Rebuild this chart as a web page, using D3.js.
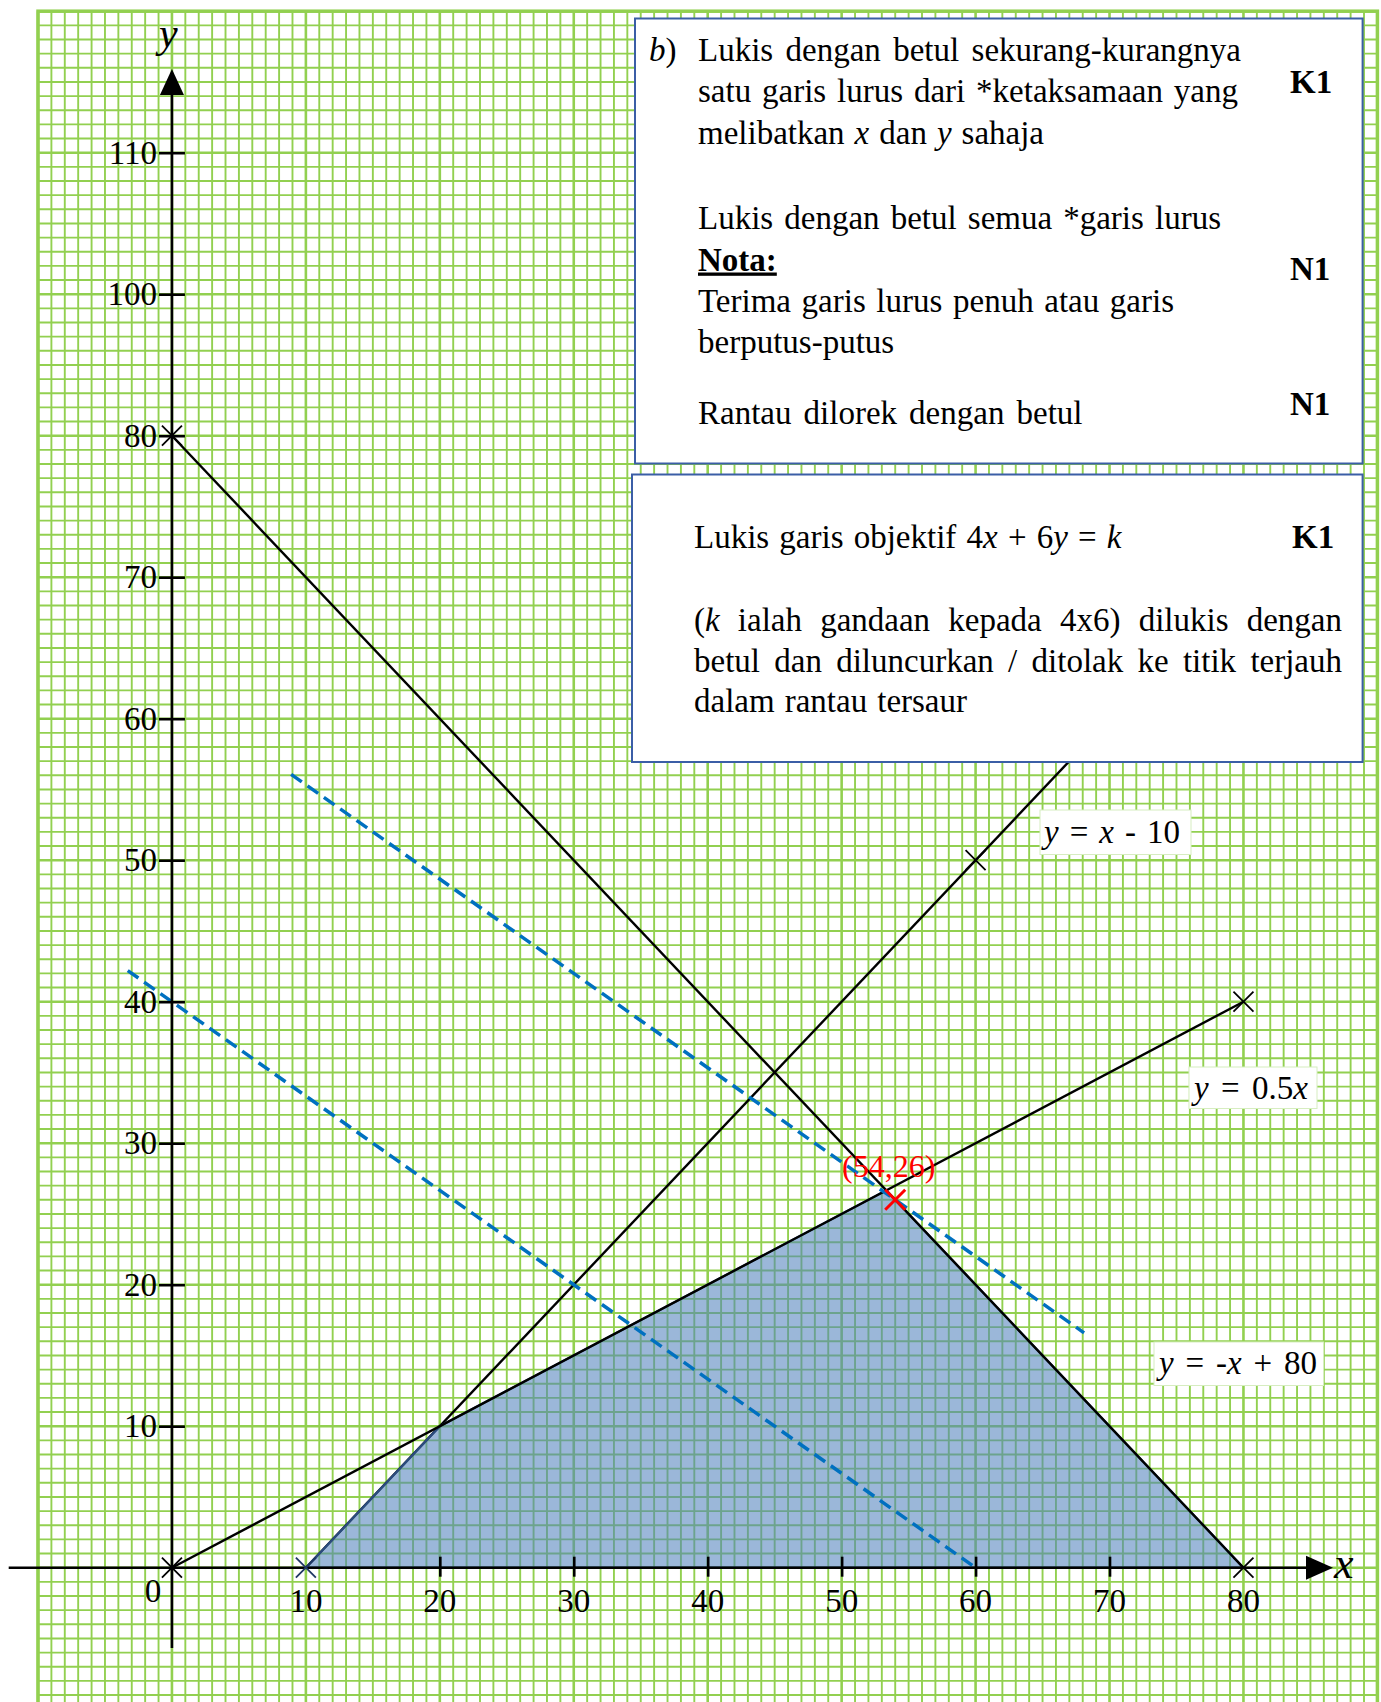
<!DOCTYPE html>
<html><head><meta charset="utf-8">
<script src="https://cdn.jsdelivr.net/npm/d3@7"></script>
<style>
html,body{margin:0;padding:0;background:#fff;}
svg{display:block;}
text{font-family:"Liberation Serif","Times New Roman",serif;}
</style></head>
<body>
<svg id="chart" width="1381" height="1702"></svg>
<script>
// ---------- data ----------
const xTickValues = [20, 30, 40, 50, 60, 70];
const xTickLabelValues = [10, 20, 30, 40, 50, 60, 70, 80];
const xTickLabels = ["10", "20", "30", "40", "50", "60", "70", "80"];
const yTickValues = [10, 20, 30, 40, 50, 60, 70, 80, 90, 100];
const yTickLabels = ["10", "20", "30", "40", "50", "60", "70", "80", "100", "110"];

// constraint lines (endpoints in data units)
const lineXminus10 = [[10, 0], [70, 60]];      // y = x - 10
const lineHalfX = [[0, 0], [80, 40]];          // y = 0.5x
const lineMinusXplus80 = [[0, 80], [80, 0]];   // y = -x + 80

// objective lines 4x + 6y = k
const objectiveK = [240, 372];
const objectiveXStart = [-3.3, 8.9];
const objectiveXEnd = [60, 68.1];

// shaded feasible region
const feasibleRegion = [[10, 0], [20, 10], [53.33, 26.67], [80, 0]];

// cross marks
const crossPoints = [[0, 0], [10, 0], [80, 0], [0, 80], [60, 50], [80, 40]];
const optimumPoint = [54, 26];
const optimumLabel = "(54,26)";

// ---------- layout ----------
const svg = d3.select("#chart");
const x = d3.scaleLinear().domain([-10, 90]).range([38, 1377.4]);
const y = d3.scaleLinear().domain([-10, 110]).range([1709.2, 11.2]);
const gridGreen = "#92d050";

// grid
const grid = svg.append("g");
const gx = d3.range(-10, 91), gy = d3.range(-10, 111);
grid.selectAll("line.v").data(gx).join("line")
  .attr("x1", d => x(d)).attr("x2", d => x(d))
  .attr("y1", y(110)).attr("y2", 1702)
  .attr("stroke", gridGreen).attr("stroke-width", d => d % 10 === 0 ? 2.6 : 1.9);
grid.selectAll("line.h").data(gy).join("line")
  .attr("y1", d => y(d)).attr("y2", d => y(d))
  .attr("x1", x(-10)).attr("x2", x(90))
  .attr("stroke", gridGreen).attr("stroke-width", d => d % 10 === 0 ? 2.6 : 1.9);
grid.append("rect").attr("x", x(-10)).attr("y", y(110))
  .attr("width", x(90) - x(-10)).attr("height", 1702)
  .attr("fill", "none").attr("stroke", gridGreen).attr("stroke-width", 3.5);

const line = d3.line().x(d => x(d[0])).y(d => y(d[1]));

// y = x - 10 (under the shading)
svg.append("path").attr("d", line(lineXminus10)).attr("stroke", "#000").attr("stroke-width", 2.4).attr("fill", "none");

// shaded region
svg.append("path").attr("d", line(feasibleRegion) + "Z")
  .attr("fill", "#4f81bd").attr("fill-opacity", 0.57)
  .attr("stroke", "#2b4c7e").attr("stroke-width", 2.2);

svg.append("path").attr("d", line(lineHalfX)).attr("stroke", "#000").attr("stroke-width", 2.4).attr("fill", "none");
svg.append("path").attr("d", line(lineMinusXplus80)).attr("stroke", "#000").attr("stroke-width", 2.4).attr("fill", "none");

// objective dashed lines
objectiveK.forEach((k, i) => {
  const pts = [[objectiveXStart[i], (k - 4 * objectiveXStart[i]) / 6], [objectiveXEnd[i], (k - 4 * objectiveXEnd[i]) / 6]];
  svg.append("path").attr("d", line(pts)).attr("stroke", "#0070c0").attr("stroke-width", 3.5)
    .attr("stroke-dasharray", "13,7").attr("fill", "none");
});

// axes
const axes = svg.append("g");
axes.append("line").attr("x1", 8.7).attr("x2", 1310).attr("y1", y(0)).attr("y2", y(0)).attr("stroke", "#000").attr("stroke-width", 2.6);
axes.append("path").attr("d", `M${1306},${y(0) - 12}L${1333},${y(0)}L${1306},${y(0) + 12}Z`).attr("fill", "#000");
axes.append("line").attr("x1", x(0)).attr("x2", x(0)).attr("y1", 92).attr("y2", 1648).attr("stroke", "#000").attr("stroke-width", 2.6);
axes.append("path").attr("d", `M${x(0) - 12},${95}L${x(0)},${69}L${x(0) + 12},${95}Z`).attr("fill", "#000");

// x axis ticks via d3 axis
const xAxisG = axes.append("g").attr("transform", `translate(0,${y(0)})`)
  .call(d3.axisBottom(x).tickValues(xTickValues).tickSize(9).tickFormat(""));
xAxisG.select(".domain").remove();
xAxisG.selectAll(".tick line").attr("y1", -11).attr("y2", 9).attr("stroke", "#000").attr("stroke-width", 2.6);

axes.selectAll("text.xl").data(xTickLabelValues).join("text")
  .attr("x", d => x(d)).attr("y", y(0) + 44).attr("text-anchor", "middle")
  .attr("font-size", 33).attr("fill", "#000").text((d, i) => xTickLabels[i]);
axes.append("text").attr("x", 153).attr("y", y(0) + 34).attr("text-anchor", "middle")
  .attr("font-size", 33).attr("fill", "#000").text("0");

// y axis ticks via d3 axis
const yAxisG = axes.append("g").attr("transform", `translate(${x(0)},0)`)
  .call(d3.axisLeft(y).tickValues(yTickValues).tickSize(13).tickPadding(16).tickFormat((d, i) => yTickLabels[i]));
yAxisG.select(".domain").remove();
yAxisG.selectAll(".tick line").attr("x1", -13).attr("x2", 13).attr("stroke", "#000").attr("stroke-width", 2.6);
yAxisG.selectAll(".tick text").attr("font-size", 33).attr("fill", "#000")
  .attr("font-family", "Liberation Serif, serif").attr("dy", "0.32em").attr("x", -15);

axes.append("text").attr("x", 159).attr("y", 47).attr("font-size", 42).attr("font-style", "italic").text("y");
axes.append("text").attr("x", 1334).attr("y", 1578).attr("font-size", 44).attr("font-style", "italic").text("x");

// crosses
const cs = 10;
crossPoints.forEach((p) => {
  const cx = x(p[0]), cy = y(p[1]);
  const col = (p[0] === 10 && p[1] === 0) ? "#203864" : "#000";
  svg.append("path").attr("d", `M${cx - cs},${cy - cs}L${cx + cs},${cy + cs}M${cx - cs},${cy + cs}L${cx + cs},${cy - cs}`)
    .attr("stroke", col).attr("stroke-width", 1.8).attr("fill", "none");
});

// justify helper: spreads extra width across word gaps
function justify(t, target) {
  const node = t.node();
  const natural = node.getComputedTextLength();
  const spaces = (node.textContent.match(/ /g) || []).length;
  if (spaces > 0 && target > natural) t.attr("word-spacing", (target - natural) / spaces);
}

// line labels
function labelBox(bx, by, bw, bh, tx, ty, tl, parts) {
  svg.append("rect").attr("x", bx).attr("y", by).attr("width", bw).attr("height", bh)
    .attr("fill", "#fff").attr("stroke", "#d6edc0").attr("stroke-width", 1);
  const t = svg.append("text").attr("x", tx).attr("y", ty).attr("font-size", 33).attr("fill", "#000");
  parts.forEach(p => t.append("tspan").attr("font-style", p[1] ? "italic" : null).text(p[0]));
  justify(t, tl);
}
labelBox(1040, 810, 151, 44.5, 1044, 843, 136, [["y", 1], [" = ", 0], ["x", 1], [" - 10", 0]]);
labelBox(1189, 1067, 128, 41.5, 1194, 1099, 114, [["y", 1], [" = 0.5", 0], ["x", 1]]);
labelBox(1154, 1342, 169.5, 43.5, 1159, 1374, 158, [["y", 1], [" = -", 0], ["x", 1], [" + 80", 0]]);

// text boxes
const boxStroke = "#3b5ea6";
svg.append("rect").attr("x", 635).attr("y", 18.5).attr("width", 727.6).attr("height", 445)
  .attr("fill", "#fff").attr("stroke", boxStroke).attr("stroke-width", 2);
svg.append("rect").attr("x", 632).attr("y", 474.5).attr("width", 730.6).attr("height", 287.5)
  .attr("fill", "#fff").attr("stroke", boxStroke).attr("stroke-width", 2);

function textLine(tx, ty, parts, tl, opts) {
  const t = svg.append("text").attr("x", tx).attr("y", ty).attr("font-size", 33).attr("fill", "#000");
  if (opts && opts.bold) t.attr("font-weight", "bold");
  if (opts && opts.underline) t.attr("text-decoration", "underline");
  parts.forEach(p => t.append("tspan").attr("font-style", p[1] ? "italic" : null).text(p[0]));
  if (tl) justify(t, tl);
  return t;
}
textLine(649, 61, [["b", 1], [")", 0]]);
textLine(698, 61, [["Lukis dengan betul sekurang-kurangnya", 0]], 543);
textLine(698, 102, [["satu garis lurus dari *ketaksamaan yang", 0]], 540);
textLine(698, 143.5, [["melibatkan ", 0], ["x", 1], [" dan ", 0], ["y", 1], [" sahaja", 0]], 346);
textLine(698, 229, [["Lukis dengan betul semua *garis lurus", 0]], 523);
textLine(698, 270.5, [["Nota:", 0]], null, { bold: true, underline: true });
textLine(698, 311.7, [["Terima garis lurus penuh atau garis", 0]], 476);
textLine(698, 353, [["berputus-putus", 0]]);
textLine(698, 423.6, [["Rantau dilorek dengan betul", 0]], 384.5);
textLine(1290, 92.5, [["K1", 0]], null, { bold: true });
textLine(1290, 279.5, [["N1", 0]], null, { bold: true });
textLine(1290, 415, [["N1", 0]], null, { bold: true });

textLine(694, 548, [["Lukis garis objektif 4", 0], ["x", 1], [" + 6", 0], ["y", 1], [" = ", 0], ["k", 1]], 427.5);
textLine(1292, 548, [["K1", 0]], null, { bold: true });
textLine(694, 631, [["(", 0], ["k", 1], [" ialah gandaan kepada 4x6) dilukis dengan", 0]], 648);
textLine(694, 672, [["betul dan diluncurkan / ditolak ke titik terjauh", 0]], 648);
textLine(694, 712, [["dalam rantau tersaur", 0]], 273);

// optimum marker
const ox = x(optimumPoint[0]), oy = y(optimumPoint[1]), os = 10;
svg.append("path").attr("d", `M${ox - os},${oy - os}L${ox + os},${oy + os}M${ox - os},${oy + os}L${ox + os},${oy - os}`)
  .attr("stroke", "#ff0000").attr("stroke-width", 3).attr("fill", "none");
svg.append("text").attr("x", 842).attr("y", 1177).attr("font-size", 32).attr("fill", "#ff0000").text(optimumLabel);
</script>
</body></html>
